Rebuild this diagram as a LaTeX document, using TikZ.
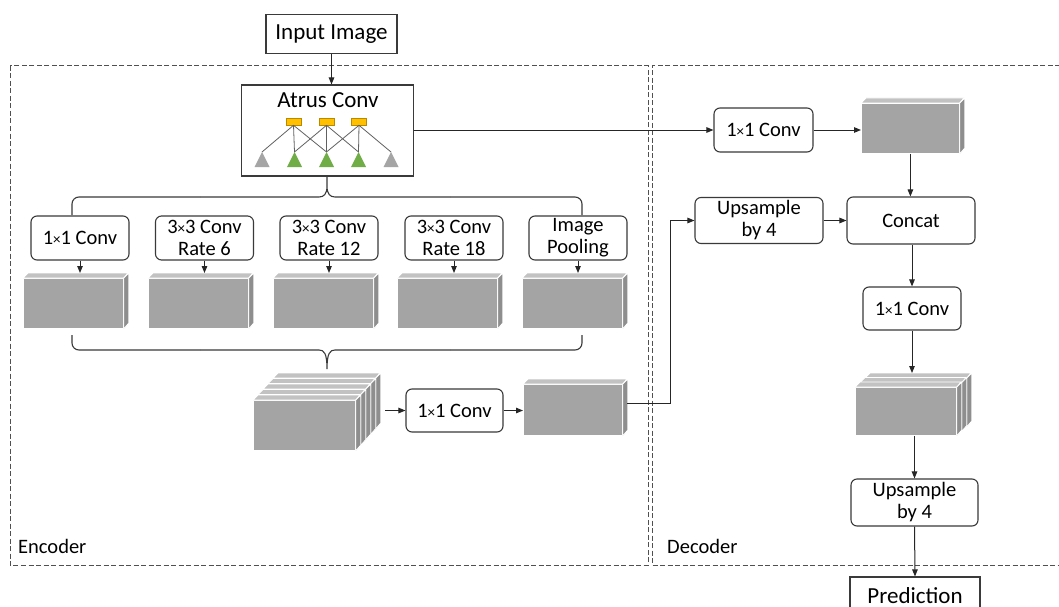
\documentclass[tikz,border=0pt]{standalone}
\usepackage{fontspec}
\setmainfont{Carlito}
\usetikzlibrary{arrows.meta,calc}
\definecolor{blkfront}{HTML}{A4A4A4}
\definecolor{blktop}{HTML}{C2C2C2}
\definecolor{blkside}{HTML}{8E8E8E}
\definecolor{boxline}{HTML}{3A3A3A}
\definecolor{lineclr}{HTML}{262626}
\definecolor{dashclr}{HTML}{505050}
\definecolor{yel}{HTML}{FFC000}
\definecolor{yeldark}{HTML}{B98A00}
\definecolor{grn}{HTML}{70AD47}
\definecolor{tgray}{HTML}{A5A5A5}
\newcommand\mtimes{{\fontsize{15}{15}\selectfont\texttimes}}
% name, x-left, y-top, width, height
\newcommand\featblk[5]{%
  \node[blk, anchor=north west, minimum width=#4pt, minimum height=#5pt] (#1) at (#2,#3) {};
  \fill[blktop, draw=white, line width=0.8pt] (#1.north west) -- ++(5,-5) -- ++(#4,0) -- (#1.north east) -- cycle;
  \fill[blkside, draw=white, line width=0.8pt] (#1.north east) -- ++(5,-5) -- ++(0,#5) -- (#1.south east) -- cycle;
}
\begin{document}
\begin{tikzpicture}[x=1pt,y=-1pt,
  box/.style={draw=boxline, line width=1.1pt, rounded corners=6pt, align=center, inner sep=0pt, fill=white,
    font=\fontsize{20.5}{22}\selectfont},
  sbox/.style={draw=boxline, line width=1.1pt, align=center, inner sep=0pt, fill=white,
    font=\fontsize{23}{26}\selectfont},
  blk/.style={fill=blkfront, draw=white, line width=0.8pt, inner sep=0pt},
  arr/.style={draw=lineclr, line width=1pt, -{Triangle[length=7pt,width=5.5pt]}},
  brace/.style={draw=boxline, line width=1.1pt},
  thinl/.style={draw=boxline!80, line width=0.8pt},
  dashbox/.style={draw=dashclr, line width=1pt, dash pattern=on 5pt off 2.5pt},
  lbl/.style={inner sep=0pt, font=\fontsize{20.5}{24}\selectfont},
  yrect/.style={draw=yeldark, fill=yel, line width=0.6pt, minimum width=15pt, minimum height=7pt, inner sep=0pt}
]
\useasboundingbox (0,0) rectangle (1059,607);
\fill[white] (0,0) rectangle (1059,607);

% dashed regions
\draw[dashbox] (10,66) rectangle (648,565);
\draw[dashbox] (1075,66) -- (652,66) -- (652,565) -- (1075,565);
\node[lbl, anchor=base west] (enc) at (18,553) {Encoder};
\node[lbl, anchor=base west] (dec) at (667,553) {Decoder};

% input
\node[sbox, minimum width=131pt, minimum height=39pt] (input) at (331.5,34) {Input Image};

% atrous conv
\node[sbox, minimum width=172pt, minimum height=91pt] (atrus) at (327.5,130.5) {};
\node[inner sep=0pt, anchor=base, font=\fontsize{23}{26}\selectfont] (atitle) at (328,107) {Atrus Conv};
\draw[arr] (input.south) -- (input.south |- atrus.north);

\node[yrect] (y1) at (293.5,121.5) {};
\node[yrect] (y2) at (326.5,121.5) {};
\node[yrect] (y3) at (359,121.5) {};
\foreach \x/\n in {262/1,294.5/2,326.5/3,358.5/4,391/5}{
  \coordinate (t\n) at (\x,152);
}
\draw[thinl] (y1.south) -- (t1);
\draw[thinl] (y1.south) -- (t2);
\draw[thinl] (y1.south) -- (t3);
\draw[thinl] (y2.south) -- (t2);
\draw[thinl] (y2.south) -- (t3);
\draw[thinl] (y2.south) -- (t4);
\draw[thinl] (y3.south) -- (t3);
\draw[thinl] (y3.south) -- (t4);
\draw[thinl] (y3.south) -- (t5);
\foreach \n/\c in {1/tgray,2/grn,3/grn,4/grn,5/tgray}{
  \fill[\c] (t\n) -- ++(7.5,15) -- ++(-15,0) -- cycle;
}

% top brace
\coordinate (bl1) at (72,215);
\coordinate (br1) at (582,215);
\draw[brace, rounded corners=7pt] (bl1) -- (72,197) -- (200,197);
\draw[brace, rounded corners=7pt] (br1) -- (582,197) -- (450,197);
\draw[brace] (200,197) -- (319,197) .. controls (324,197) and (327,194) .. (327,186) -- (atrus.south -| 327,0)
  (327,186) .. controls (327,194) and (330,197) .. (335,197) -- (450,197);

% five branches
\node[box, minimum width=98pt, minimum height=44pt] (b1) at (80,238) {1\mtimes1 Conv};
\node[box, minimum width=98pt, minimum height=44pt] (b2) at (204.5,238) {3\mtimes3 Conv\\Rate 6};
\node[box, minimum width=98pt, minimum height=44pt] (b3) at (329,238) {3\mtimes3 Conv\\Rate 12};
\node[box, minimum width=98pt, minimum height=44pt] (b4) at (454,238) {3\mtimes3 Conv\\Rate 18};
\node[box, minimum width=98pt, minimum height=44pt] (b5) at (578,238) {Image\\Pooling};

\featblk{k1}{23}{278}{100}{50}
\featblk{k2}{148}{278}{100}{50}
\featblk{k3}{273}{278}{100}{50}
\featblk{k4}{397}{278}{100}{50}
\featblk{k5}{522}{278}{100}{50}
\foreach \i in {1,...,5}{
  \draw[arr, shorten >=5pt] (b\i.south) -- (b\i.south |- k\i.north);
}

% bottom brace
\coordinate (bl2) at (72,335);
\coordinate (br2) at (582,335);
\coordinate (btip) at (327,369);
\draw[brace, rounded corners=7pt] (bl2) -- (72,350) -- (200,350);
\draw[brace, rounded corners=7pt] (br2) -- (582,350) -- (450,350);
\draw[brace] (200,350) -- (319,350) .. controls (324,350) and (327,353) .. (btip)
  .. controls (327,353) and (330,350) .. (335,350) -- (450,350);

% stacked features
\featblk{s4}{273}{378}{102}{50}
\featblk{s3}{268}{383.5}{102}{50}
\featblk{s2}{263}{389}{102}{50}
\featblk{s1}{258}{394.5}{102}{50}
\featblk{s0}{253}{400}{102}{50}

\node[box, minimum width=97pt, minimum height=43pt] (ec) at (454.5,410.5) {1\mtimes1 Conv};
\coordinate (sout) at (385,410.5);
\draw[arr] (sout) -- (ec.west);
\featblk{eb}{523}{384}{99}{51}
\draw[arr] (ec.east) -- (eb.west |- ec.east);

% decoder
\node[box, minimum width=99pt, minimum height=44pt] (dc1) at (763.5,130) {1\mtimes1 Conv};
\draw[arr] (atrus.east |- dc1.west) -- (dc1.west);
\featblk{db1}{861}{103}{98}{50}
\draw[arr] (dc1.east) -- (db1.west |- dc1.east);

\node[box, minimum width=128pt, minimum height=47pt] (concat) at (911,220.5) {Concat};
\node[box, minimum width=128pt, minimum height=46pt] (up1) at (759,220.5) {Upsample\\by 4};
\draw[arr] (db1.south) -- (db1.south |- concat.north);
\draw[arr] (up1.east) -- (concat.west);
\coordinate (ebout) at (627,403);
\draw[arr] (ebout) -| ([xshift=-24pt]up1.west) -- (up1.west);

\node[box, minimum width=98pt, minimum height=43pt] (dc2) at (912,308.5) {1\mtimes1 Conv};
\draw[arr] (concat.south -| dc2.north) -- (dc2.north);

\featblk{ds2}{865}{378}{101}{48}
\featblk{ds1}{860}{382.5}{101}{48}
\featblk{ds}{855}{387}{101}{48}
\draw[arr, shorten >=5pt] (dc2.south) -- (dc2.south |- ds2.north);

\node[box, minimum width=127pt, minimum height=47pt] (up2) at (914.5,502.5) {Upsample\\by 4};
\draw[arr] (up2.north |- ds.south) -- (up2.north);

\node[sbox, minimum width=130pt, minimum height=38pt] (pred) at (915,596) {};
\node[inner sep=0pt, anchor=base, font=\fontsize{23}{26}\selectfont] (ptext) at (915,603) {Prediction};
\draw[arr] (up2.south) -- (pred.north);
\end{tikzpicture}
\end{document}
